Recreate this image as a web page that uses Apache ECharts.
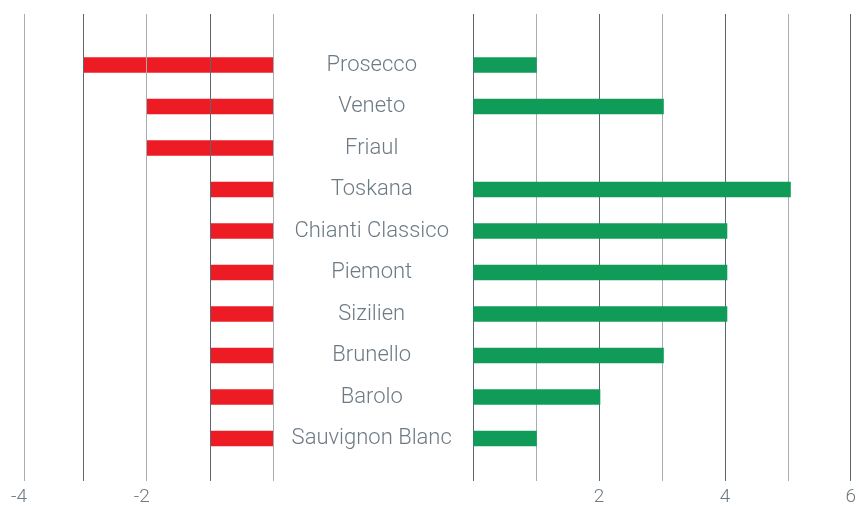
<!DOCTYPE html>
<html>
<head>
<meta charset="utf-8">
<script src="https://cdn.jsdelivr.net/npm/echarts@6/dist/echarts.min.js"></script>
<style>html,body{margin:0;padding:0;background:#fff}#c{width:859px;height:507px}</style>
</head>
<body>
<div id="c"></div>
<script>
var categories = ['Prosecco','Veneto','Friaul','Toskana','Chianti Classico','Piemont','Sizilien','Brunello','Barolo','Sauvignon Blanc'];
var negativeValues = [-3,-2,-2,-1,-1,-1,-1,-1,-1,-1];
var positiveValues = [1,3,0,5,4,4,4,3,2,1];
var leftTickLabels = ['-4','-2'];
var rightTickLabels = [2,4,6];

var TEXT = '#6d7a84', DARK = '#5c6770', LIGHT = '#a5adb1';
var FONT = 'Roboto';
var UNIT = 63.5;               // px per unit on both sides
var ZERO_L = 273.7, ZERO_R = 473.3;
var LEFT_EDGE = 24;            // leftmost grid line
var leftSpan = (ZERO_L - LEFT_EDGE) / UNIT;

var chart = echarts.init(document.getElementById('c'), null, {renderer:'canvas'});
var labelCommon = {fontFamily: FONT, fontWeight: 300, fontSize: 19, color: TEXT, margin: 7};
chart.setOption({
  animation: false,
  grid: [
    {left: LEFT_EDGE, width: ZERO_L - LEFT_EDGE, top: 14, bottom: 26},
    {left: ZERO_L - 4 * UNIT, width: 4 * UNIT, top: 44.25, height: 415},
    {left: ZERO_R, width: 6 * UNIT, top: 14, bottom: 26},
    {left: ZERO_R, width: 6 * UNIT, top: 44.25, height: 415}
  ],
  xAxis: [
    {gridIndex: 0, type: 'value', min: 0, max: leftSpan, interval: 1, inverse: true, z: 5,
     axisLine: {show: false}, axisTick: {show: false},
     splitLine: {show: true, showMinLine: true, showMaxLine: true, lineStyle: {color: [LIGHT, DARK], width: 1}},
     axisLabel: Object.assign({}, labelCommon, {padding: [0, 10, 0, 0], showMinLabel: true, showMaxLabel: true,
       formatter: function (v) {
         if (Math.abs(v - leftSpan) < 1e-6) return leftTickLabels[0];
         if (v === 2) return leftTickLabels[1];
         return '';
       }})},
    {gridIndex: 2, type: 'value', min: 0, max: 6, interval: 1, z: 0,
     axisLine: {show: false}, axisTick: {show: false},
     splitLine: {show: true, lineStyle: {color: [DARK, LIGHT], width: 1}},
     axisLabel: Object.assign({}, labelCommon, {
       formatter: function (v) { return rightTickLabels.indexOf(v) >= 0 ? String(v) : ''; }})},
    {gridIndex: 1, type: 'value', min: -4, max: 0, show: false, splitLine: {show: false}},
    {gridIndex: 3, type: 'value', min: 0, max: 6, show: false, splitLine: {show: false}}
  ],
  yAxis: [
    {gridIndex: 0, type: 'category', data: categories, show: false},
    {gridIndex: 1, type: 'category', data: categories, inverse: true, position: 'right',
     axisLine: {show: false}, axisTick: {show: false}, splitLine: {show: false},
     axisLabel: {fontFamily: FONT, fontWeight: 300, fontSize: 22, color: TEXT, align: 'center', margin: 98}},
    {gridIndex: 2, type: 'category', data: categories, show: false},
    {gridIndex: 3, type: 'category', data: categories, inverse: true, show: false}
  ],
  series: [
    {type: 'bar', xAxisIndex: 2, yAxisIndex: 1, data: negativeValues, barWidth: 15.5,
     itemStyle: {color: '#ed1c24'}, z: 2},
    {type: 'bar', xAxisIndex: 3, yAxisIndex: 3, data: positiveValues, barWidth: 15.5,
     itemStyle: {color: '#109c58'}, z: 2}
  ]
});
</script>
</body>
</html>
